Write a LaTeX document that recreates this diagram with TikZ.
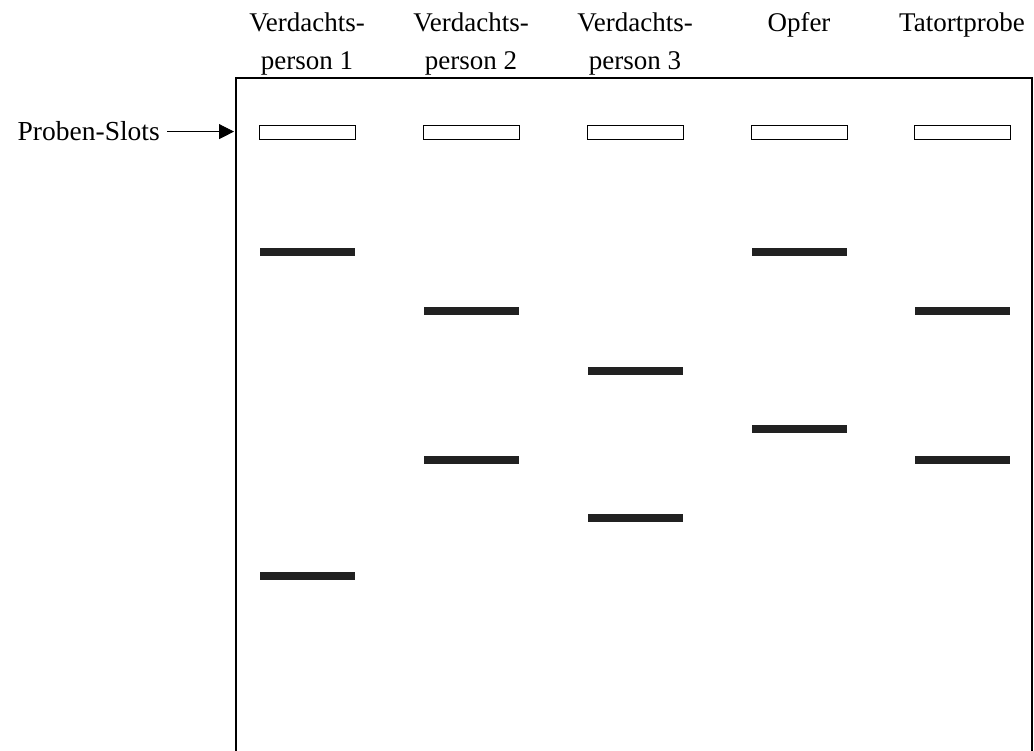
\documentclass[tikz,border=0pt]{standalone}
\usepackage{fontspec}
\setmainfont{Liberation Serif}
\usetikzlibrary{arrows.meta,positioning}
\tikzset{>={Stealth[length=15pt,width=15pt,inset=0pt]}}
\tikzset{
  slot/.style={draw,line width=0.8pt,fill=white,minimum width=96pt,minimum height=14pt,inner sep=0pt},
  band/.style={fill=black!87,minimum width=95pt,minimum height=8pt,inner sep=0pt},
  lanelabel/.style={align=center,anchor=north,inner sep=0pt,font=\fontsize{27}{38}\selectfont}
}

\begin{document}
\begin{tikzpicture}[x=1pt,y=-1pt]
    \useasboundingbox (0,0) rectangle (1034,751);
    % gel, open at the bottom
    \coordinate (gelTL) at (236,78);
    \coordinate (gelTR) at (1032,78);
    \draw[line width=1.8pt] (gelTL |- 0,760) -- (gelTL) -- (gelTR) -- (gelTR |- 0,760);
    % lane labels
    \node[lanelabel] (l1) at (307,13) {Verdachts-\\person 1};
    \node[lanelabel] (l2) at (471,13) {Verdachts-\\person 2};
    \node[lanelabel] (l3) at (635,13) {Verdachts-\\person 3};
    \node[lanelabel,anchor=base] (l4) at (799,31.5) {Opfer};
    \node[lanelabel,anchor=base] (l5) at (962,31.5) {Tatortprobe};
    % slots
    \foreach \x [count=\i] in {307,471,635,799,962}
        \node[slot] (slot\i) at (\x,132) {};
    \node[anchor=base east,inner sep=0pt,font=\fontsize{27.5}{38}\selectfont] (probe) at (160,141) {Proben-Slots};
    \draw[->,line width=0.8pt] ([xshift=7pt]probe.east) -- ([xshift=-2pt]probe.east -| gelTL);
    % bands
    \node[band] (b1a) at (307,252) {};
    \node[band] (b1b) at (307,576) {};
    \node[band] (b2a) at (471,311) {};
    \node[band] (b2b) at (471,460) {};
    \node[band] (b3a) at (635,371) {};
    \node[band] (b3b) at (635,518) {};
    \node[band] (b4a) at (799,252) {};
    \node[band] (b4b) at (799,429) {};
    \node[band] (b5a) at (962,311) {};
    \node[band] (b5b) at (962,460) {};
\end{tikzpicture}
\end{document}
